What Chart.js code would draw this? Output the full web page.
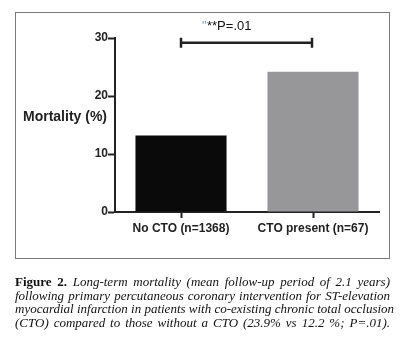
<!DOCTYPE html>
<html>
<head>
<meta charset="utf-8">
<script src="https://cdn.jsdelivr.net/npm/chart.js@4.4.1/dist/chart.umd.min.js"></script>
<style>
  html, body { margin: 0; padding: 0; background: #fff; }
  body { width: 406px; height: 351px; position: relative; overflow: hidden; }
  #chartBox { position: absolute; left: 0; top: 0; width: 406px; height: 260px; }
  #frame {
    position: absolute; left: 15px; top: 12px; width: 373px; height: 245px;
    border: 1px solid #7a7a7a; pointer-events: none;
  }
  #caption {
    position: absolute; left: 15px; top: 275px; width: 375px;
    font-family: "Liberation Serif", "DejaVu Serif", serif;
    font-size: 13px; line-height: 13.5px; color: #111;
  }
  #caption div { text-align: justify; text-align-last: justify; white-space: nowrap; }
  #caption i { font-style: italic; }
</style>
</head>
<body>
<div id="chartBox"><canvas id="mortalityChart"></canvas></div>
<div id="frame"></div>
<div id="caption">
  <div><b>Figure 2.</b> <i>Long-term mortality (mean follow-up period of 2.1 years)</i></div>
  <div><i>following primary percutaneous coronary intervention for ST-elevation</i></div>
  <div><i>myocardial infarction in patients with co-existing chronic total occlusion</i></div>
  <div><i>(CTO) compared to those without a CTO (23.9% vs 12.2 %; P=.01).</i></div>
</div>
<script>
const groups = ["No CTO (n=1368)", "CTO present (n=67)"];
const mortality = [13.2, 24.2];
const barColors = ["#0a0a0a", "#97979a"];
const yTicks = [0, 10, 20, 30];
const yLabel = "Mortality (%)";
const pText = "**P=.01";
const bracketValue = 29.2;

const chartCanvas = document.querySelector("#mortalityChart");

/* y label and significance bracket */
const extras = {
    id: "extras",
    afterDraw(chart) {
        const ctx = chart.ctx;
        const x = chart.scales.x;
        const y = chart.scales.y;

        ctx.save();
        ctx.fillStyle = "#222";
        ctx.font = "bold 14px 'Liberation Sans', Arial, sans-serif";
        ctx.textAlign = "right";
        ctx.textBaseline = "middle";
        ctx.fillText(yLabel, x.left - 8, y.getPixelForValue(16.3));

        const x1 = x.getPixelForValue(0);
        const x2 = x.getPixelForValue(1) - 1;
        const by = y.getPixelForValue(bracketValue);
        ctx.strokeStyle = "#222";
        ctx.lineWidth = 2.5;
        ctx.beginPath();
        ctx.moveTo(x1, by);
        ctx.lineTo(x2, by);
        ctx.moveTo(x1, by - 5);
        ctx.lineTo(x1, by + 5);
        ctx.moveTo(x2, by - 5);
        ctx.lineTo(x2, by + 5);
        ctx.stroke();

        ctx.font = "13px 'Liberation Sans', Arial, sans-serif";
        ctx.textAlign = "left";
        ctx.textBaseline = "alphabetic";
        ctx.fillStyle = "#8a9bb8";
        ctx.fillText("\"", x1 + 21, by - 13);
        ctx.fillStyle = "#111";
        ctx.fillText(pText, x1 + 26, by - 13);
        ctx.restore();
    }
};

new Chart(chartCanvas, {
    type: "bar",
    data: {
        labels: groups,
        datasets: [
            {
                data: mortality,
                backgroundColor: barColors,
                borderWidth: 0,
                barPercentage: 0.69,
                categoryPercentage: 1
            }
        ]
    },
    options: {
        responsive: true,
        maintainAspectRatio: false,
        animation: false,
        layout: {
            padding: { left: 0, right: 27, top: 38, bottom: 0 }
        },
        plugins: {
            legend: { display: false },
            tooltip: { enabled: false }
        },
        scales: {
            x: {
                afterFit: scale => { scale.height = 48; },
                grid: {
                    offset: false,
                    drawOnChartArea: false,
                    drawTicks: true,
                    tickLength: 6,
                    tickWidth: 2,
                    color: "#222"
                },
                border: { display: true, width: 2, color: "#222" },
                ticks: {
                    color: "#222",
                    padding: 3,
                    maxRotation: 0,
                    font: { family: "'Liberation Sans', Arial, sans-serif", size: 12, weight: "bold" }
                }
            },
            y: {
                min: 0,
                max: 30,
                afterFit: scale => { scale.width = 115; },
                afterBuildTicks: scale => { scale.ticks = yTicks.map(v => ({ value: v })); },
                grid: {
                    drawOnChartArea: false,
                    drawTicks: true,
                    tickLength: 7,
                    tickWidth: 2,
                    color: "#222"
                },
                border: { display: true, width: 2, color: "#222" },
                ticks: {
                    color: "#222",
                    padding: 0,
                    font: { family: "'Liberation Sans', Arial, sans-serif", size: 12, weight: "bold" }
                }
            }
        }
    },
    plugins: [extras]
});
</script>
</body>
</html>
